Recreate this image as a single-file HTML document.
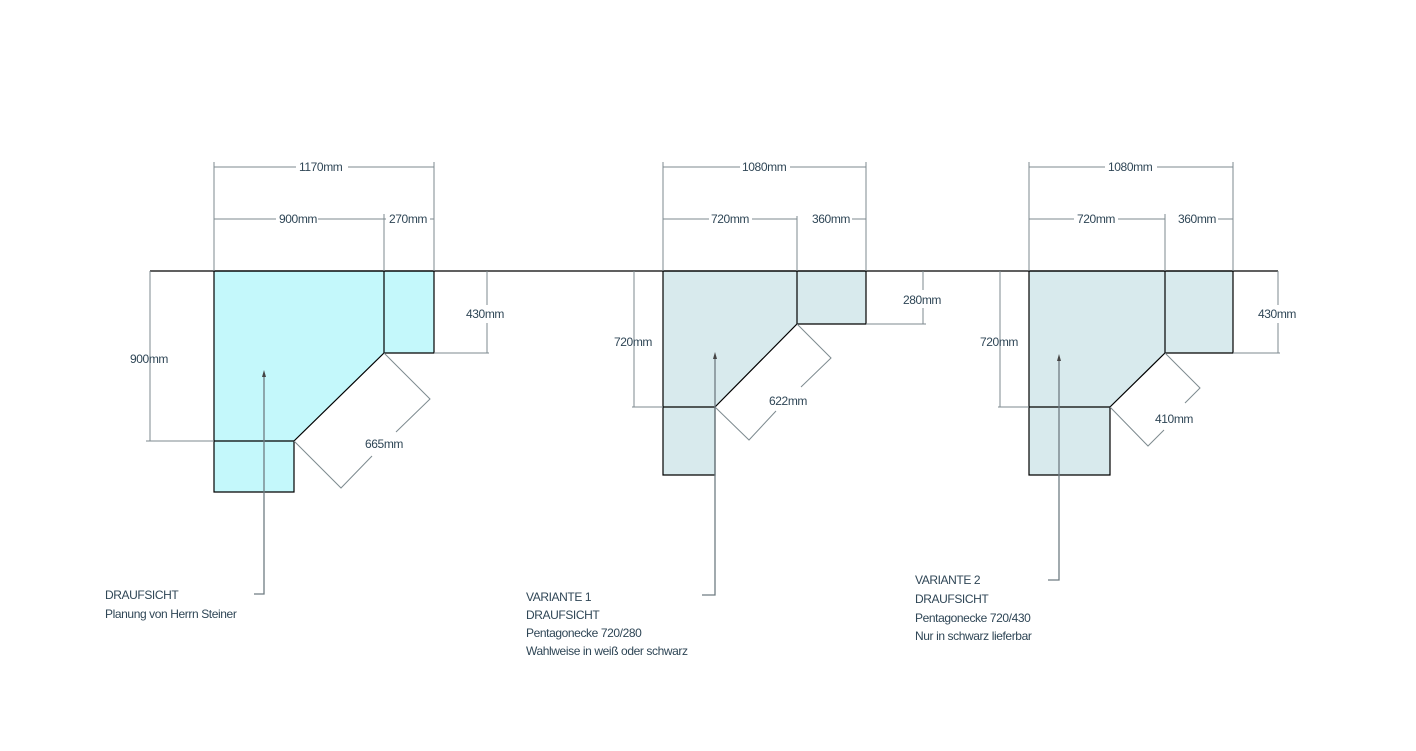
<!DOCTYPE html>
<html><head><meta charset="utf-8"><style>
body{margin:0;background:#fff}
svg text{font-family:"Liberation Sans",sans-serif;font-size:12px;fill:#2f4656;letter-spacing:-0.4px}
</style></head><body>
<svg width="1416" height="746" viewBox="0 0 1416 746" xmlns="http://www.w3.org/2000/svg">
<g stroke="#000" stroke-width="1.2">
<polygon points="214,271 434,271 434,353 384,353 294,441 294,492 214,492" fill="#c4f8fb"/>
<line x1="384" y1="271" x2="384" y2="353"/><line x1="214" y1="441" x2="294" y2="441"/>
<polygon points="663,271 866,271 866,324 797,324 715,407 715,475 663,475" fill="#d8eaed"/>
<line x1="797" y1="271" x2="797" y2="324"/><line x1="663" y1="407" x2="715" y2="407"/>
<polygon points="1029,271 1233,271 1233,353 1165,353 1110,407 1110,475 1029,475" fill="#d8eaed"/>
<line x1="1165" y1="271" x2="1165" y2="353"/><line x1="1029" y1="407" x2="1110" y2="407"/>
<line x1="150" y1="271" x2="1278" y2="271"/>
</g>
<g stroke="#7d8a8f" stroke-width="1" fill="none">
<!-- shape1 dims -->
<line x1="214" y1="162" x2="214" y2="271"/><line x1="434" y1="162" x2="434" y2="271"/>
<line x1="214" y1="167" x2="296" y2="167"/><line x1="348" y1="167" x2="434" y2="167"/>
<line x1="214" y1="219" x2="276" y2="219"/><line x1="318" y1="219" x2="384" y2="219"/>
<line x1="384" y1="214" x2="384" y2="271"/><line x1="384" y1="219" x2="386" y2="219"/><line x1="430" y1="219" x2="434" y2="219"/>
<line x1="150" y1="271" x2="150" y2="441"/><line x1="146" y1="441" x2="214" y2="441"/>
<line x1="487" y1="271" x2="487" y2="305"/><line x1="487" y1="323" x2="487" y2="353"/><line x1="434" y1="353" x2="489" y2="353"/>
<polyline points="384,353 430,399 396,432"/><polyline points="372,456 341,488 294,441"/>
<!-- shape2 dims -->
<line x1="663" y1="162" x2="663" y2="271"/><line x1="866" y1="162" x2="866" y2="271"/>
<line x1="663" y1="167" x2="740" y2="167"/><line x1="790" y1="167" x2="866" y2="167"/>
<line x1="663" y1="219" x2="709" y2="219"/><line x1="752" y1="219" x2="797" y2="219"/>
<line x1="797" y1="216" x2="797" y2="271"/><line x1="852" y1="219" x2="866" y2="219"/>
<line x1="634" y1="271" x2="634" y2="407"/><line x1="632" y1="407" x2="663" y2="407"/>
<line x1="923" y1="271" x2="923" y2="290"/><line x1="923" y1="308" x2="923" y2="324"/><line x1="866" y1="324" x2="926" y2="324"/>
<polyline points="797,324 831,358 801,387"/><polyline points="776,411 749,440 715,407"/>
<!-- shape3 dims -->
<line x1="1029" y1="162" x2="1029" y2="271"/><line x1="1233" y1="162" x2="1233" y2="271"/>
<line x1="1029" y1="167" x2="1105" y2="167"/><line x1="1157" y1="167" x2="1233" y2="167"/>
<line x1="1029" y1="219" x2="1074" y2="219"/><line x1="1118" y1="219" x2="1165" y2="219"/>
<line x1="1165" y1="214" x2="1165" y2="271"/><line x1="1218" y1="219" x2="1233" y2="219"/>
<line x1="1000" y1="271" x2="1000" y2="407"/><line x1="998" y1="407" x2="1029" y2="407"/>
<line x1="1278" y1="271" x2="1278" y2="305"/><line x1="1278" y1="323" x2="1278" y2="353"/><line x1="1233" y1="353" x2="1280" y2="353"/>
<polyline points="1165,353 1200,388 1185,403"/><polyline points="1164,430 1148,446 1110,407"/>
</g>
<g stroke="#6f7c82" stroke-width="1.3" fill="none">
<polyline points="264,374 264,594 254,594"/>
<polyline points="715,356 715,595 702,595"/>
<polyline points="1059,358 1059,580 1048,580"/>
</g>
<g fill="#444"><polygon points="264,370 262,377 266,377"/><polygon points="715,352 713,359 717,359"/><polygon points="1059,354 1057,361 1061,361"/></g>
<text x="299" y="171">1170mm</text>
<text x="279" y="223">900mm</text><text x="389" y="223">270mm</text>
<text x="130" y="363">900mm</text><text x="466" y="318">430mm</text>
<text x="365" y="448">665mm</text>
<text x="742" y="171">1080mm</text>
<text x="711" y="223">720mm</text><text x="812" y="223">360mm</text>
<text x="614" y="346">720mm</text><text x="903" y="304">280mm</text>
<text x="769" y="405">622mm</text>
<text x="1108" y="171">1080mm</text>
<text x="1077" y="223">720mm</text><text x="1178" y="223">360mm</text>
<text x="980" y="346">720mm</text><text x="1258" y="318">430mm</text>
<text x="1155" y="423">410mm</text>
<text x="105" y="599">DRAUFSICHT</text>
<text x="105" y="618">Planung von Herrn Steiner</text>
<text x="526" y="601">VARIANTE 1</text>
<text x="526" y="619">DRAUFSICHT</text>
<text x="526" y="637">Pentagonecke 720/280</text>
<text x="526" y="655">Wahlweise in weiß oder schwarz</text>
<text x="915" y="584">VARIANTE 2</text>
<text x="915" y="603">DRAUFSICHT</text>
<text x="915" y="622">Pentagonecke 720/430</text>
<text x="915" y="640">Nur in schwarz lieferbar</text>
</svg>
</body></html>
